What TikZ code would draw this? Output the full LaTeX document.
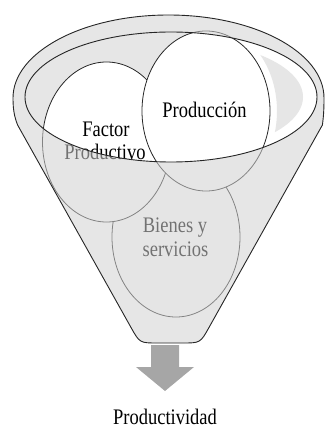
\documentclass[tikz,border=0pt]{standalone}
\usepackage{fontspec}
\setmainfont{Liberation Serif}
\usetikzlibrary{shapes.geometric}
\definecolor{rimgray}{RGB}{230,230,230}
\definecolor{veil}{RGB}{209,209,209}
\definecolor{arrowgray}{RGB}{166,166,166}
\definecolor{edge}{RGB}{38,38,38}
\begin{document}
\begin{tikzpicture}[x=1pt,y=-1pt,
  edgeline/.style={draw=edge,line width=0.9pt},
  bubble/.style={ellipse,fill=white,draw=edge,line width=0.8pt,inner sep=0pt,minimum width=128pt,minimum height=160pt},
  lbl/.style={anchor=base,inner sep=0pt,font=\fontsize{18.5}{22}\selectfont},
]
\useasboundingbox (0,0) rectangle (324,430);

% opening of the funnel
\fill[rimgray] (171,97) ellipse[x radius=146,y radius=65];
\begin{scope}
  \clip (171,97) ellipse[x radius=146,y radius=65];
  \fill[white] (206,0) rectangle (330,200);
  \clip (171,97) ellipse[x radius=132,y radius=57];
  \fill[rimgray,even odd rule] (206,0) rectangle (330,200) (206,111) ellipse[x radius=71,y radius=87];
\end{scope}

% circles
\node[bubble] (bienesc) at (176,237) {};
\node[bubble] (factorc) at (106.5,142) {};
\node[bubble] (prodc) at (206,111) {};

% texts
\node[lbl] (factor) at (106,137) {\scalebox{1}[1.2]{Factor}};
\node[lbl] (productivo) at (105,160) {\scalebox{1}[1.2]{Productivo}};
\node[lbl] (produccion) at (204.5,118) {\scalebox{1}[1.2]{Producción}};
\node[lbl] (bienes) at (175,232) {\scalebox{1}[1.2]{Bienes y}};
\node[lbl] (servicios) at (175.5,256) {\scalebox{1}[1.2]{servicios}};

% translucent funnel body
\fill[veil,fill opacity=0.55,even odd rule]
  (13,98) arc[start angle=180,end angle=360,x radius=155.5,y radius=83]
  .. controls (324,110) and (323.5,117) .. (322.4,125)
  -- (209.1,327.3) .. controls (200.3,343) .. (182.3,343)
  -- (157.7,343) .. controls (139.7,343) .. (130.9,327.3)
  -- (17.6,125) .. controls (14.5,117) and (13,110) .. (13,98) -- cycle
  (171,97) ellipse[x radius=146,y radius=65];

% outlines
\draw[edgeline]
  (13,98) arc[start angle=180,end angle=360,x radius=155.5,y radius=83]
  .. controls (324,110) and (323.5,117) .. (322.4,125)
  -- (209.1,327.3) .. controls (200.3,343) .. (182.3,343)
  -- (157.7,343) .. controls (139.7,343) .. (130.9,327.3)
  -- (17.6,125) .. controls (14.5,117) and (13,110) .. (13,98) -- cycle;
\draw[edgeline] (171,97) ellipse[x radius=146,y radius=65];

% arrow
\fill[arrowgray] (151,345) -- (179,345) -- (179,367) -- (194,367) -- (165,391)
  -- (136,367) -- (151,367) -- cycle;

\node[lbl] (productividad) at (165,424.5) {\scalebox{1}[1.2]{Productividad}};
\end{tikzpicture}
\end{document}
